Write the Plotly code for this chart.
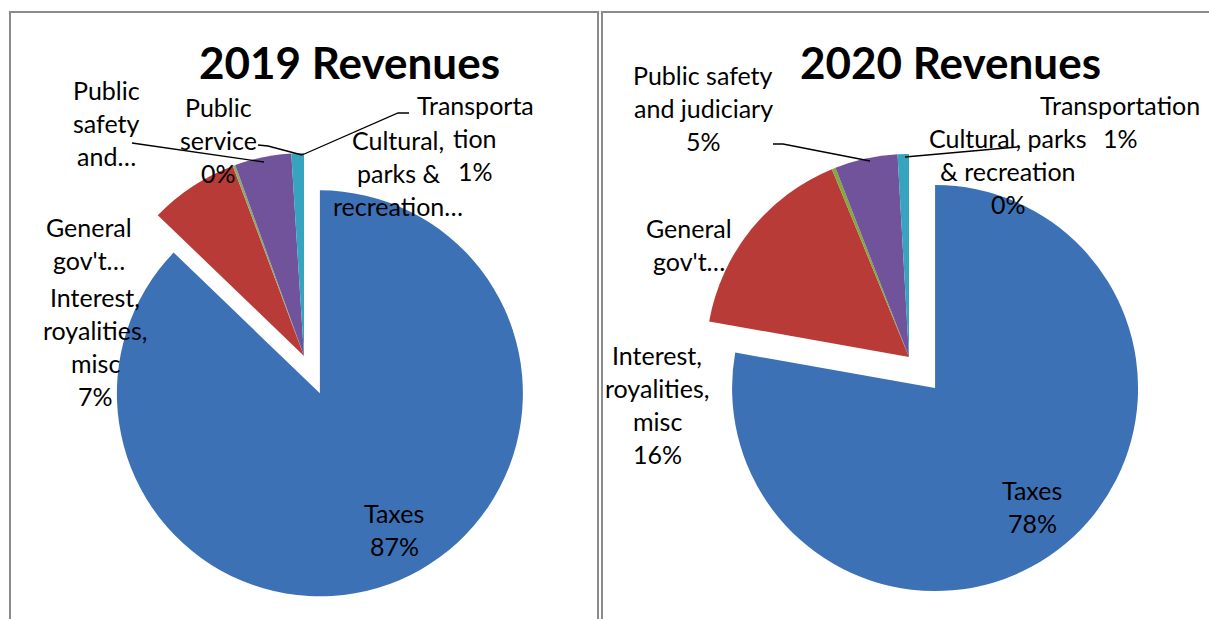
import plotly.graph_objects as go

W, H = 1209, 619

# ---- data -------------------------------------------------------------
categories_2019 = ["Taxes", "Interest, royalities, misc", "General gov't",
                   "Public safety and judiciary", "Public service",
                   "Cultural, parks & recreation", "Transportation"]
values_2019 = [87.2, 7.1, 0.2, 4.5, 0.0, 0.0, 1.0]
label_lines_2019 = [["Taxes"], ["Interest,", "royalities,", "misc"], ["General", "gov't…"],
                    ["Public", "safety", "and…"], ["Public", "service"],
                    ["Cultural,", "parks &", "recreation…"], ["Transporta", "tion"]]
show_pct_2019 = [True, True, False, False, True, False, True]

categories_2020 = ["Taxes", "Interest, royalities, misc", "General gov't",
                   "Public safety and judiciary",
                   "Cultural, parks & recreation", "Transportation"]
values_2020 = [77.8, 16.0, 0.3, 5.0, 0.0, 0.9]
label_lines_2020 = [["Taxes"], ["Interest,", "royalities,", "misc"], ["General", "gov't…"],
                    ["Public safety", "and judiciary"],
                    ["Cultural, parks", "& recreation"], ["Transportation"]]
show_pct_2020 = [True, True, False, True, True, True]

colors_2019 = ["#3D71B6", "#B83B37", "#8FA86A", "#70539B", "#E98B3A", "#E98B3A", "#36A3BF"]
colors_2020 = ["#3D71B6", "#B83B37", "#84A83F", "#70539B", "#E98B3A", "#36A3BF"]

# ---- layout helpers (pixel positions) ---------------------------------
FONT = "Lato"
PULL = 0.2
R = 203


def px(x):
    return x / W


def py(y):
    return 1 - y / H


def domain(cx, cy):
    h = R * (1 + PULL)
    return dict(x=[px(cx - h), px(cx + h)], y=[py(cy + h), py(cy - h)])


fig = go.Figure()

charts = [
    dict(values=values_2019, cats=categories_2019, colors=colors_2019, center=(304, 356),
         lines=label_lines_2019, show=show_pct_2019, title="2019 Revenues", title_x=349,
         # label anchor (center x, first-line y) for each slice
         pos=[(394, 513), (95, 297), (89, 227), (106, 90), (218, 107), (398, 140), (475, 105)],
         leaders=[[(132, 143), (264, 162)],
                  [(258, 145), (268, 146), (302, 155)],
                  [(409, 113), (398, 113), (302, 155)]]),
    dict(values=values_2020, cats=categories_2020, colors=colors_2020, center=(909, 357),
         lines=label_lines_2020, show=show_pct_2020, title="2020 Revenues", title_x=950,
         pos=[(1032, 490), (657, 355), (689, 228), (703, 75), (1008, 138), (1120, 105)],
         leaders=[[(773, 144), (783, 144), (870, 161)],
                  [(905, 157), (1017, 147)]]),
]

annotations = []
shapes = []

# panel frames
for x0, x1 in [(10, 598), (602, 1216)]:
    shapes.append(dict(type="rect", xref="paper", yref="paper",
                       x0=px(x0), x1=px(x1), y0=py(630), y1=py(12),
                       line=dict(color="#8C8C8C", width=2), layer="below"))

for ch in charts:
    vals = ch["values"]
    total = sum(vals)
    pulls = [PULL] + [0] * (len(vals) - 1)
    fig.add_trace(go.Pie(
        labels=ch["cats"], values=vals, sort=False, direction="clockwise",
        rotation=0, pull=pulls, textinfo="none", showlegend=False,
        marker=dict(colors=ch["colors"], line=dict(width=0)),
        domain=domain(*ch["center"]),
    ))
    # data labels: category lines plus percentage computed from values
    for v, lines, show, (lx, ly) in zip(vals, ch["lines"], ch["show"], ch["pos"]):
        txt = list(lines)
        if show:
            txt.append(f"{round(100 * v / total)}%")
        for i, t in enumerate(txt):
            annotations.append(dict(
                text=t, x=px(lx), y=py(ly + i * 33), xref="paper", yref="paper",
                xanchor="center", yanchor="middle", showarrow=False,
                font=dict(family=FONT, size=25, color="black")))
    for pts in ch["leaders"]:
        path = "M " + " L ".join(f"{px(a)},{py(b)}" for a, b in pts)
        shapes.append(dict(type="path", xref="paper", yref="paper", path=path,
                           line=dict(color="black", width=1.3)))
    annotations.append(dict(
        text=f"<b>{ch['title']}</b>", x=px(ch["title_x"]), y=py(62),
        xref="paper", yref="paper", xanchor="center", yanchor="middle",
        showarrow=False, font=dict(family=FONT, size=44, color="black")))

fig.update_layout(
    width=W, height=H, margin=dict(l=0, r=0, t=0, b=0),
    paper_bgcolor="white", plot_bgcolor="white",
    annotations=annotations, shapes=shapes,
)

fig.write_html("out.html")
